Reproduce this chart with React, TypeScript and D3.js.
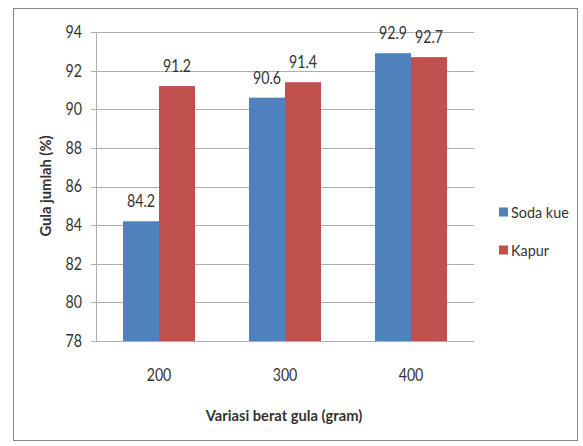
import React from "react";
import * as d3 from "d3";

const categories = ["200", "300", "400"];
const seriesNames = ["Soda kue", "Kapur"];
const sodaKue = [84.2, 90.6, 92.9];
const kapur = [91.2, 91.4, 92.7];
const yTicks = [78, 80, 82, 84, 86, 88, 90, 92, 94];
const colors = ["#4F81BD", "#C0504D"];

const FONT = "Lato, 'Open Sans', sans-serif";
const SX = 0.86;

function Num({ x, y, anchor, children, dy }: { x: number; y: number; anchor: string; children: any; dy?: string }) {
  return (
    <text transform={`translate(${x},${y}) scale(${SX},1)`} dy={dy} textAnchor={anchor} fontSize={16.5} fill="#333">
      {children}
    </text>
  );
}

export default function App() {
  const W = 583, H = 446;
  const y = d3.scaleLinear().domain([78, 94]).range([341, 32]);
  const x = d3.scaleBand<string>().domain(categories).range([96, 474]).paddingInner(0.4286).paddingOuter(0.2143);
  const xs = d3.scaleBand<string>().domain(seriesNames).range([0, x.bandwidth()]);
  const series = [sodaKue, kapur];
  const textColor = "#333";
  return (
    <svg width={W} height={H} style={{ position: "absolute", left: 0, top: 0 }} fontFamily={FONT}>
      <rect x={0} y={0} width={W} height={H} fill="#fff" />
      <rect x={13.5} y={8.5} width={564} height={432} fill="none" stroke="#888" strokeWidth={1} />
      {yTicks.map((t) => (
        <g key={t}>
          <line x1={91} x2={474} y1={Math.round(y(t)) + 0.5} y2={Math.round(y(t)) + 0.5} stroke="#AEAEAE" />
          <Num x={82} y={y(t)} dy="0.36em" anchor="end">{t}</Num>
        </g>
      ))}
      <line x1={96.5} x2={96.5} y1={y(94)} y2={y(78)} stroke="#AEAEAE" />
      {series.map((vals, si) =>
        vals.map((v, i) => {
          const bx = (x(categories[i]) as number) + (xs(seriesNames[si]) as number);
          return (
            <g key={si + "-" + i}>
              <rect x={bx} y={y(v)} width={xs.bandwidth()} height={y(78) - y(v)} fill={colors[si]} />
              <Num x={bx + xs.bandwidth() / 2} y={y(v) - 14} anchor="middle">{v.toFixed(1)}</Num>
            </g>
          );
        })
      )}
      {categories.map((c) => (
        <Num key={c} x={(x(c) as number) + x.bandwidth() / 2} y={375} dy="0.36em" anchor="middle">{c}</Num>
      ))}
      <text transform={`translate(284,415) scale(0.92,1)`} dy="0.35em" textAnchor="middle" fontSize={16} fontWeight="bold" fill={textColor}>Variasi berat gula (gram)</text>
      <text transform={`translate(45,186) rotate(-90) scale(0.92,1)`} textAnchor="middle" dy="0.35em" fontSize={16} fontWeight="bold" fill={textColor}>Gula jumlah (%)</text>
      {seriesNames.map((s, i) => (
        <g key={s} transform={`translate(499,${212 + i * 38})`}>
          <rect x={0} y={-4.5} width={9} height={9} fill={colors[i]} />
          <text transform={`translate(12,0) scale(0.9,1)`} dy="0.35em" fontSize={16} fill={textColor}>{s}</text>
        </g>
      ))}
    </svg>
  );
}
